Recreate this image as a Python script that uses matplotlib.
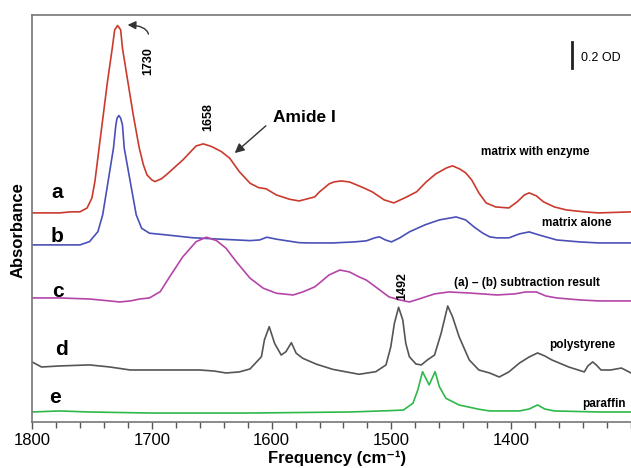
import numpy as np
import matplotlib.pyplot as plt

plt.rcParams['font.family'] = ['Liberation Sans', 'DejaVu Sans']

# wavenumber (cm-1) and absorbance (OD, relative to each trace's own baseline)
freq_a = [1800, 1785, 1777, 1768, 1760, 1754, 1750, 1747.5, 1744, 1740.5, 1737, 1733, 1731, 1728.5, 1726,
          1724.5, 1720, 1715.5, 1710.5, 1707, 1704, 1700, 1697.5, 1692, 1688, 1674, 1663, 1657, 1650, 1642,
          1635, 1627, 1618, 1611, 1604.5, 1596, 1585, 1577, 1564, 1560, 1552, 1548, 1542, 1535, 1525,
          1516, 1506, 1498, 1489, 1479, 1471, 1463, 1454, 1449, 1443, 1438, 1433, 1427, 1421, 1413,
          1402, 1395, 1389, 1385, 1379, 1373, 1364, 1354, 1339, 1327, 1300]
abs_a = [0, 0, 0, 0.008, 0.008, 0.038, 0.115, 0.241, 0.500, 0.754, 1.010, 1.267, 1.408, 1.441, 1.408,
         1.267, 1.010, 0.754, 0.500, 0.369, 0.292, 0.254, 0.241, 0.262, 0.292, 0.408, 0.515, 0.531, 0.510, 0.472,
         0.421, 0.318, 0.228, 0.195, 0.185, 0.138, 0.105, 0.092, 0.123, 0.162, 0.223, 0.238, 0.246, 0.238, 0.200,
         0.162, 0.100, 0.077, 0.115, 0.162, 0.238, 0.300, 0.346, 0.362, 0.338, 0.308, 0.254, 0.154, 0.077, 0.046,
         0.038, 0.085, 0.138, 0.154, 0.131, 0.085, 0.046, 0.023, 0.008, 0, 0.008]

freq_b = [1800, 1777, 1768, 1760, 1752, 1745, 1741, 1736.5, 1732, 1730, 1729, 1727.5, 1726, 1724.5, 1723,
          1718, 1713, 1708.5, 1702, 1688, 1666, 1647, 1618, 1610, 1604, 1596, 1577, 1568, 1549, 1531,
          1521, 1514, 1510, 1505, 1500, 1493, 1485, 1472, 1460, 1446, 1438, 1431, 1424, 1418, 1412,
          1402, 1393, 1385, 1377, 1362, 1343, 1327, 1300]
abs_b = [0, 0, 0, 0, 0.025, 0.102, 0.231, 0.487, 0.744, 0.923, 0.975, 0.995, 0.975, 0.923, 0.744,
         0.487, 0.231, 0.128, 0.090, 0.077, 0.055, 0.046, 0.033, 0.038, 0.059, 0.044, 0.017, 0.015, 0.015, 0.023,
         0.031, 0.054, 0.062, 0.038, 0.023, 0.054, 0.100, 0.154, 0.192, 0.215, 0.192, 0.138, 0.092, 0.062, 0.054,
         0.054, 0.085, 0.100, 0.077, 0.038, 0.023, 0.015, 0.015]

freq_c = [1800, 1777, 1752, 1735, 1727, 1718, 1710, 1702, 1693, 1685, 1674, 1663, 1654.5, 1646, 1638,
          1629.5, 1618, 1607, 1596, 1582, 1574, 1564, 1560, 1552, 1543, 1535, 1527, 1521, 1512, 1502,
          1493, 1485, 1477, 1464, 1452, 1435, 1412, 1397, 1388, 1379, 1371, 1362, 1343, 1327, 1300]
abs_c = [0, 0, -0.008, -0.023, -0.031, -0.023, -0.008, 0, 0.048, 0.164, 0.318, 0.433, 0.467, 0.441, 0.382,
         0.279, 0.152, 0.075, 0.036, 0.023, 0.046, 0.085, 0.115, 0.177, 0.215, 0.200, 0.162, 0.138, 0.077, 0.008,
         -0.015, -0.031, -0.008, 0.031, 0.046, 0.038, 0.023, 0.031, 0.046, 0.046, 0.015, 0, -0.015, -0.023, -0.023]

freq_d = [1800, 1792, 1777, 1752, 1735, 1718, 1693, 1660, 1648, 1638, 1627, 1618, 1608.5, 1606, 1602,
          1597.5, 1592, 1588, 1583.5, 1579.5, 1574, 1563, 1549, 1527, 1513, 1504.5, 1500.5, 1497.5, 1494, 1490.5,
          1488, 1485, 1479.5, 1475, 1470, 1464, 1458.5, 1453, 1449, 1443.5, 1435, 1427, 1418, 1410, 1402,
          1393, 1385, 1378, 1372, 1366, 1360, 1352, 1339, 1336, 1332, 1329, 1325, 1317, 1308, 1300]
abs_d = [0.085, 0.046, 0.054, 0.062, 0.046, 0.023, 0.023, 0.023, 0.015, 0, 0.008, 0.031, 0.125, 0.254, 0.356,
         0.228, 0.138, 0.164, 0.233, 0.152, 0.113, 0.069, 0.028, -0.010, 0.010, 0.062, 0.202, 0.382, 0.505, 0.408,
         0.228, 0.125, 0.069, 0.062, 0.100, 0.138, 0.305, 0.515, 0.433, 0.279, 0.100, 0.023, 0, -0.031, 0.008,
         0.077, 0.123, 0.154, 0.131, 0.100, 0.077, 0.046, 0.008, 0.054, 0.085, 0.062, 0.023, 0.023, 0.038, 0]

freq_e = [1800, 1777, 1752, 1702, 1618, 1535, 1502, 1490, 1482, 1478, 1474, 1468.5, 1463.5, 1460, 1454.5,
          1443.5, 1427, 1418, 1393, 1385, 1378, 1372, 1364, 1327, 1300]
abs_e = [0, 0.008, 0, -0.008, -0.008, 0, 0.010, 0.015, 0.067, 0.169, 0.310, 0.208, 0.310, 0.195, 0.105,
         0.054, 0.021, 0.008, 0.008, 0.023, 0.054, 0.023, 0.008, 0, 0]

letters = ['a', 'b', 'c', 'd', 'e']
names = ['matrix with enzyme', 'matrix alone', '(a) \u2013 (b) subtraction result', 'polystyrene', 'paraffin']
offsets = [1.608, 1.362, 0.954, 0.377, 0.077]
colors = ['#cc3a2e', '#4a50b8', '#b545a8', '#555555', '#2fb84a']

fig = plt.figure(figsize=(6.31, 4.68), dpi=100)
ax = fig.add_axes([32 / 631, 46 / 468, 599 / 631, 407 / 468])

series = [(freq_a, abs_a), (freq_b, abs_b), (freq_c, abs_c), (freq_d, abs_d), (freq_e, abs_e)]
for (f, a), off, col in zip(series, offsets, colors):
    ax.plot(f, np.array(a) + off, color=col, lw=1.2, solid_joinstyle='round')

ax.set_xlim(1800, 1300)
ax.set_ylim(0, 3.13)
ax.set_xticks([1800, 1700, 1600, 1500, 1400])
ax.set_xticks(np.arange(1800, 1299, -20), minor=True)
ax.set_yticks([])
ax.tick_params(axis='x', which='both', direction='out', colors='#555555', labelcolor='black',
               labelsize=12, width=1, pad=3)
ax.tick_params(axis='x', which='major', length=5)
ax.tick_params(axis='x', which='minor', length=4)
ax.spines['right'].set_visible(False)
for s in ['left', 'top', 'bottom']:
    ax.spines[s].set_color('#777777')
    ax.spines[s].set_linewidth(1.2)

# trace letters and names
letter_pos = [(1779, 1.762), (1779, 1.423), (1778, 1.0), (1775, 0.554), (1781, 0.185)]
name_pos = [(1425, 2.077), (1374, 1.531), (1447.5, 1.069), (1368, 0.592), (1341, 0.138)]
for l, (lx, ly), n, (nx, ny) in zip(letters, letter_pos, names, name_pos):
    ax.text(lx, ly, l, fontsize=15, fontweight='bold', ha='center', va='center')
    ax.text(nx, ny, n, fontsize=8.5, fontweight='bold', ha='left', va='center')

# peak labels
ax.text(1703.3, 2.777, '1730', rotation=90, fontsize=9, fontweight='bold', ha='center', va='center')
ax.text(1653, 2.346, '1658', rotation=90, fontsize=9, fontweight='bold', ha='center', va='center')
ax.text(1491, 1.046, '1492', rotation=90, fontsize=9, fontweight='bold', ha='center', va='center')

ax.text(1599, 2.338, 'Amide I', fontsize=12.5, fontweight='bold', ha='left', va='center')
ax.annotate('', xy=(1632.5, 2.054), xytext=(1603, 2.292),
            arrowprops=dict(arrowstyle='-|>', color='#333333', lw=1, mutation_scale=14))
ax.annotate('', xy=(1722.5, 3.054), xytext=(1702.5, 2.962),
            arrowprops=dict(arrowstyle='-|>', color='#333333', lw=1, mutation_scale=12,
                            connectionstyle='angle3,angleA=90,angleB=0'))

# scale bar
ax.plot([1349, 1349], [2.723, 2.923], color='#222222', lw=2)
ax.text(1341.7, 2.8, '0.2 OD', fontsize=9, ha='left', va='center')

fig.text(0.028, 0.509, 'Absorbance', rotation=90, fontsize=12, fontweight='bold', ha='center', va='center')
fig.text(0.534, 0.01, 'Frequency (cm\u207b\u00b9)', fontsize=12, fontweight='bold', ha='center', va='baseline')

fig.savefig('out.png', dpi=100)
